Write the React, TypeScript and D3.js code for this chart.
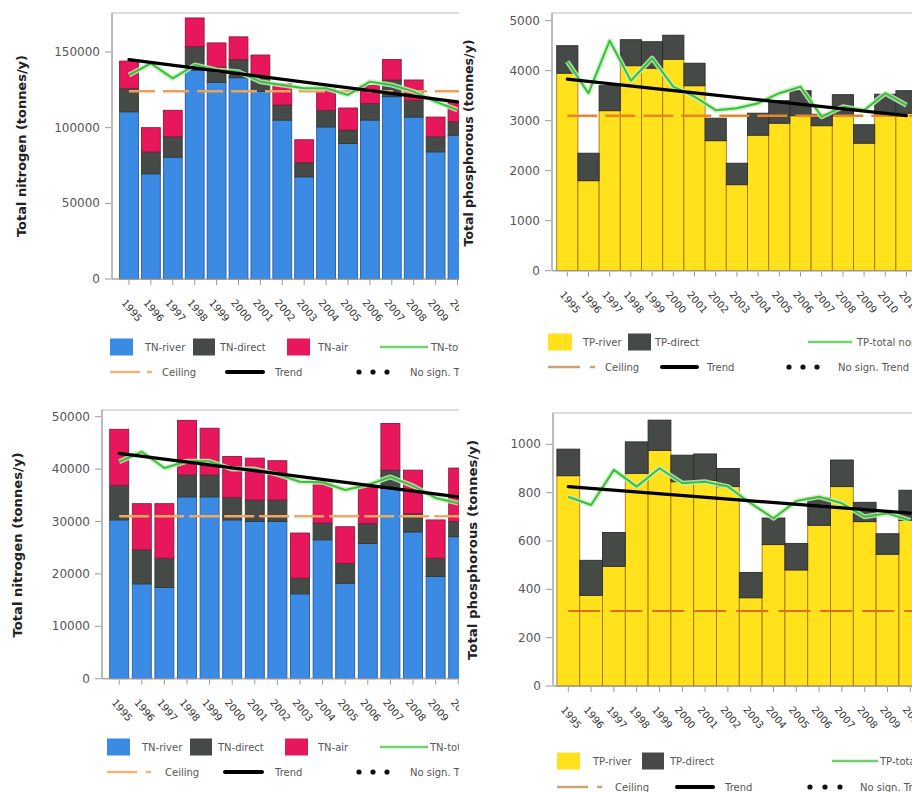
import React from 'react';
import * as d3 from 'd3';

// ---- categories ----
const yearsTN = ['1995', '1996', '1997', '1998', '1999', '2000', '2001', '2002', '2003', '2004', '2005', '2006', '2007', '2008', '2009', '2010'];
const yearsTPa = ['1995', '1996', '1997', '1998', '1999', '2000', '2001', '2002', '2003', '2004', '2005', '2006', '2007', '2008', '2009', '2010', '2011'];
const yearsTPb = ['1995', '1996', '1997', '1998', '1999', '2000', '2001', '2002', '2003', '2004', '2005', '2006', '2007', '2008', '2009', '2010'];

// ---- nitrogen, upper basin (tonnes/y) ----
const tnRiverA = [110500, 69500, 80500, 138000, 130000, 133000, 124000, 105000, 67500, 100500, 89500, 105000, 120500, 107000, 84000, 95000];
const tnDirectA = [15500, 14500, 13500, 15500, 10000, 12000, 9000, 10000, 9500, 11000, 9000, 11000, 11000, 11000, 10000, 9000];
const tnAirA = [18000, 16000, 17500, 19000, 16000, 15000, 15000, 14000, 15000, 14000, 14500, 12000, 13500, 13500, 13000, 13000];
const tnNormA = [134800, 142500, 132600, 141400, 138100, 137000, 130400, 128200, 126000, 126000, 121600, 130400, 128200, 123800, 117200, 111700];
const tnTrendA = [145000, 117000];
const tnCeilingA = 124000;
const tnTicksA = [0, 50000, 100000, 150000];

// ---- phosphorus, upper basin (tonnes/y) ----
const tpRiverA = [3950, 1800, 3200, 4100, 4050, 4230, 3700, 2600, 1720, 2710, 2950, 3100, 2900, 3100, 2550, 3130, 3150];
const tpDirectA = [550, 550, 500, 520, 530, 480, 450, 450, 430, 440, 450, 500, 230, 420, 370, 400, 450];
const tpNormA = [4180, 3550, 4600, 3800, 4250, 3680, 3480, 3210, 3250, 3350, 3550, 3680, 3080, 3280, 3210, 3550, 3310];
const tpTrendA = [3830, 3100];
const tpCeilingA = 3100;
const tpTicksA = [0, 1000, 2000, 3000, 4000, 5000];

// ---- nitrogen, lower basin (tonnes/y) ----
const tnRiverB = [30300, 18100, 17400, 34700, 34700, 30300, 30000, 30000, 16200, 26500, 18200, 25800, 36300, 28000, 19500, 27100];
const tnDirectB = [6600, 6500, 5600, 4200, 4200, 4300, 4100, 4100, 3000, 3200, 3800, 3800, 3500, 3500, 3500, 2900];
const tnAirB = [10700, 8800, 10400, 10400, 8900, 7800, 8000, 7500, 8600, 7600, 7000, 7000, 8900, 8300, 7300, 10200];
const tnNormB = [41400, 43300, 40200, 41500, 41500, 40000, 40000, 39000, 37600, 37500, 36000, 37000, 38500, 36800, 34500, 33500];
const tnTrendB = [43000, 34700];
const tnCeilingB = 31000;
const tnTicksB = [0, 10000, 20000, 30000, 40000, 50000];

// ---- phosphorus, lower basin (tonnes/y) ----
const tpRiverB = [870, 375, 495, 880, 975, 845, 850, 825, 365, 585, 480, 665, 825, 680, 545, 685];
const tpDirectB = [110, 145, 140, 130, 125, 110, 110, 75, 105, 110, 110, 115, 110, 80, 85, 125];
const tpNormB = [783, 749, 894, 825, 901, 839, 845, 825, 756, 694, 765, 783, 756, 700, 715, 685];
const tpTrendB = [825, 715];
const tpCeilingB = 310;
const tpTicksB = [0, 200, 400, 600, 800, 1000];

const FONT = 'DejaVu Sans, Verdana, sans-serif';
const BLUE = '#3b8ae4';
const DARK = '#454a46';
const PINK = '#e8175b';
const YELLOW = '#ffe21c';
const GREEN = '#3fbd3f';

type Seg = { key: string; values: number[]; fill: string; stroke: string };
type LegendSwatch = { x: number; w: number; fill: string; label: string; tx: number };
type Legend = {
  row1: number;
  row2: number;
  swatches: LegendSwatch[];
  green: [number, number, number];
  greenLabel: string;
  ceil: [number, number, number, number, number];
  ceilColor: string;
  trend: [number, number, number];
  dots: [number, number, number, number];
};
type PanelCfg = {
  id: string;
  clipLeft: number;
  clipRight: number;
  plotLeft: number;
  plotTop: number;
  y0: number;
  refValue: number;
  refPx: number;
  years: string[];
  bandStart: number;
  step: number;
  pad: number;
  segs: Seg[];
  norm: number[];
  trend: number[];
  ceiling: number;
  ceilColor: string;
  ceilDash: string;
  ceilWidth: number;
  ticks: number[];
  yLabel: string;
  yLabelX: number;
  yLabelY: number;
  yLabelLen: number;
  legend: Legend;
};

function Panel({ c }: { c: PanelCfg }) {
  const n = c.years.length;
  const x = d3
    .scaleBand<string>()
    .domain(c.years)
    .range([c.bandStart, c.bandStart + c.step * n])
    .paddingInner(c.pad)
    .paddingOuter(c.pad / 2);
  const y = d3.scaleLinear().domain([0, c.refValue]).range([c.y0, c.refPx]);
  const bw = x.bandwidth();
  const cx = (yr: string) => (x(yr) as number) + bw / 2;

  const rows = c.years.map((yr, i) => {
    const r: Record<string, any> = { year: yr };
    c.segs.forEach((s) => (r[s.key] = s.values[i]));
    return r;
  });
  const stacked = d3.stack<Record<string, any>>().keys(c.segs.map((s) => s.key))(rows);

  const normPath = d3
    .line<number>()
    .x((_, i) => cx(c.years[i]))
    .y((v) => y(v))(c.norm) as string;
  const trendPath = d3
    .line<[string, number]>()
    .x((d) => cx(d[0]))
    .y((d) => y(d[1]))([
    [c.years[0], c.trend[0]],
    [c.years[n - 1], c.trend[1]],
  ]) as string;

  const L = c.legend;
  return (
    <g>
      <defs>
        <clipPath id={c.id}>
          <rect x={c.clipLeft} y={0} width={c.clipRight - c.clipLeft} height={792} />
        </clipPath>
      </defs>
      <g clipPath={`url(#${c.id})`} fontFamily={FONT}>
        {/* plot frame */}
        <rect
          x={c.plotLeft}
          y={c.plotTop}
          width={600}
          height={c.y0 - c.plotTop}
          fill="#fff"
          stroke="#d2d2d2"
          strokeWidth={1.5}
        />
        {/* stacked bars */}
        {stacked.map((layer, li) => (
          <g key={layer.key}>
            {layer.map((d, i) => (
              <rect
                key={i}
                x={x(c.years[i])}
                y={y(d[1])}
                width={bw}
                height={Math.max(0, y(d[0]) - y(d[1]))}
                fill={c.segs[li].fill}
                stroke={c.segs[li].stroke}
                strokeWidth={0.9}
              />
            ))}
          </g>
        ))}
        {/* ceiling */}
        <line
          x1={cx(c.years[0])}
          x2={c.clipRight + 20}
          y1={y(c.ceiling)}
          y2={y(c.ceiling)}
          stroke={c.ceilColor}
          strokeWidth={c.ceilWidth}
          strokeDasharray={c.ceilDash}
        />
        {/* normalised total */}
        <path d={normPath} fill="none" stroke="#bff0b8" strokeWidth={5} strokeLinejoin="round" opacity={0.85} />
        <path d={normPath} fill="none" stroke={GREEN} strokeWidth={2} strokeLinejoin="round" />
        {/* trend */}
        <path d={trendPath} fill="none" stroke="#000" strokeWidth={3.2} strokeLinecap="round" />

        {/* y axis */}
        <line x1={c.plotLeft} x2={c.plotLeft} y1={c.plotTop} y2={c.y0} stroke="#9a9a9a" strokeWidth={1} />
        {c.ticks.map((t) => (
          <g key={t}>
            <line x1={c.plotLeft - 7} x2={c.plotLeft - 1} y1={y(t)} y2={y(t)} stroke="#9a9a9a" />
            <text
              x={c.plotLeft - 12}
              y={y(t)}
              textAnchor="end"
              dominantBaseline="central"
              fontSize={12}
              fill="#555"
            >
              {t}
            </text>
          </g>
        ))}
        {/* x axis */}
        <line x1={c.plotLeft} x2={c.clipRight + 20} y1={c.y0} y2={c.y0} stroke="#9a9a9a" />
        {c.years.map((yr) => (
          <g key={yr}>
            <line x1={cx(yr)} x2={cx(yr)} y1={c.y0 + 1} y2={c.y0 + 6} stroke="#9a9a9a" />
            <text
              transform={`translate(${cx(yr) - 8},${c.y0 + 24}) rotate(50)`}
              fontSize={10}
              fill="#333"
            >
              {yr}
            </text>
          </g>
        ))}
        {/* y label */}
        <text
          transform={`translate(${c.yLabelX},${c.yLabelY}) rotate(-90)`}
          textAnchor="middle"
          dominantBaseline="central"
          fontSize={12}
          fontWeight="bold"
          fill="#222"
          textLength={c.yLabelLen}
          lengthAdjust="spacingAndGlyphs"
        >
          {c.yLabel}
        </text>

        {/* legend */}
        {L.swatches.map((s) => (
          <g key={s.label}>
            <rect x={s.x} y={L.row1 - 8.5} width={s.w} height={17} fill={s.fill} />
            <text x={s.tx} y={L.row1} dominantBaseline="central" fontSize={10} fill="#555">
              {s.label}
            </text>
          </g>
        ))}
        <line x1={L.green[0]} x2={L.green[1]} y1={L.row1} y2={L.row1} stroke="#6fd26f" strokeWidth={2.5} />
        <text x={L.green[2]} y={L.row1} dominantBaseline="central" fontSize={10} fill="#555">
          {L.greenLabel}
        </text>
        <line x1={L.ceil[0]} x2={L.ceil[1]} y1={L.row2} y2={L.row2} stroke={L.ceilColor} strokeWidth={2.5} />
        <line x1={L.ceil[2]} x2={L.ceil[3]} y1={L.row2} y2={L.row2} stroke={L.ceilColor} strokeWidth={2.5} />
        <text x={L.ceil[4]} y={L.row2} dominantBaseline="central" fontSize={10} fill="#555">
          Ceiling
        </text>
        <line x1={L.trend[0]} x2={L.trend[1]} y1={L.row2} y2={L.row2} stroke="#000" strokeWidth={4} strokeLinecap="round" />
        <text x={L.trend[2]} y={L.row2} dominantBaseline="central" fontSize={10} fill="#555">
          Trend
        </text>
        {[0, 1, 2].map((k) => (
          <circle key={k} cx={L.dots[0] + k * L.dots[1]} cy={L.row2} r={2.6} fill="#111" />
        ))}
        <text x={L.dots[2]} y={L.row2} dominantBaseline="central" fontSize={10} fill="#555">
          No sign. Trend
        </text>
      </g>
    </g>
  );
}

const tnSegs = (river: number[], direct: number[], air: number[]): Seg[] => [
  { key: 'river', values: river, fill: BLUE, stroke: '#2f5a9c' },
  { key: 'direct', values: direct, fill: DARK, stroke: '#2f3a33' },
  { key: 'air', values: air, fill: PINK, stroke: '#8a1a40' },
];
const tpSegs = (river: number[], direct: number[]): Seg[] => [
  { key: 'river', values: river, fill: YELLOW, stroke: '#a5741a' },
  { key: 'direct', values: direct, fill: DARK, stroke: '#2c2c2c' },
];

const panels: PanelCfg[] = [
  {
    id: 'clip-tn-a',
    clipLeft: 0,
    clipRight: 459,
    plotLeft: 112,
    plotTop: 13,
    y0: 279,
    refValue: 150000,
    refPx: 52,
    years: yearsTN,
    bandStart: 129 - 21.9 / 2,
    step: 21.9,
    pad: 0.14,
    segs: tnSegs(tnRiverA, tnDirectA, tnAirA),
    norm: tnNormA,
    trend: tnTrendA,
    ceiling: tnCeilingA,
    ceilColor: '#eda25c',
    ceilDash: '26 8',
    ceilWidth: 2.5,
    ticks: tnTicksA,
    yLabel: 'Total nitrogen (tonnes/y)',
    yLabelX: 22,
    yLabelY: 146,
    yLabelLen: 182,
    legend: {
      row1: 347,
      row2: 372,
      swatches: [
        { x: 110, w: 23, fill: BLUE, label: 'TN-river', tx: 145 },
        { x: 193, w: 22, fill: DARK, label: 'TN-direct', tx: 220 },
        { x: 287, w: 23, fill: PINK, label: 'TN-air', tx: 318 },
      ],
      green: [380, 428, 431],
      greenLabel: 'TN-total normalised',
      ceil: [110, 140, 147, 152, 162],
      ceilColor: '#f0b478',
      trend: [227, 263, 275],
      dots: [359, 14, 410],
    },
  },
  {
    id: 'clip-tp-a',
    clipLeft: 460,
    clipRight: 912,
    plotLeft: 552,
    plotTop: 13,
    y0: 270.7,
    refValue: 5000,
    refPx: 20.7,
    years: yearsTPa,
    bandStart: 567.3 - 21.2 / 2,
    step: 21.2,
    pad: 0,
    segs: tpSegs(tpRiverA, tpDirectA),
    norm: tpNormA,
    trend: tpTrendA,
    ceiling: tpCeilingA,
    ceilColor: '#e5862a',
    ceilDash: '30 8',
    ceilWidth: 2.5,
    ticks: tpTicksA,
    yLabel: 'Total phosphorous (tonnes/y)',
    yLabelX: 469,
    yLabelY: 143,
    yLabelLen: 207,
    legend: {
      row1: 342,
      row2: 367,
      swatches: [
        { x: 548, w: 24, fill: YELLOW, label: 'TP-river', tx: 583 },
        { x: 628, w: 23, fill: DARK, label: 'TP-direct', tx: 655 },
      ],
      green: [808, 852, 857],
      greenLabel: 'TP-total normalised',
      ceil: [548, 580, 590, 595, 605],
      ceilColor: '#c9a276',
      trend: [662, 697, 707],
      dots: [789, 14, 838],
    },
  },
  {
    id: 'clip-tn-b',
    clipLeft: 0,
    clipRight: 459,
    plotLeft: 102,
    plotTop: 410,
    y0: 678.7,
    refValue: 50000,
    refPx: 416.7,
    years: yearsTN,
    bandStart: 119.2 - 22.6 / 2,
    step: 22.6,
    pad: 0.16,
    segs: tnSegs(tnRiverB, tnDirectB, tnAirB),
    norm: tnNormB,
    trend: tnTrendB,
    ceiling: tnCeilingB,
    ceilColor: '#f0a862',
    ceilDash: '30 5',
    ceilWidth: 2.5,
    ticks: tnTicksB,
    yLabel: 'Total nitrogen (tonnes/y)',
    yLabelX: 18,
    yLabelY: 545,
    yLabelLen: 185,
    legend: {
      row1: 747,
      row2: 772,
      swatches: [
        { x: 107, w: 23, fill: BLUE, label: 'TN-river', tx: 142 },
        { x: 190, w: 22, fill: DARK, label: 'TN-direct', tx: 218 },
        { x: 285, w: 23, fill: PINK, label: 'TN-air', tx: 318 },
      ],
      green: [380, 428, 430],
      greenLabel: 'TN-total normalised',
      ceil: [107, 137, 146, 151, 165],
      ceilColor: '#f0b478',
      trend: [225, 262, 275],
      dots: [359, 14, 410],
    },
  },
  {
    id: 'clip-tp-b',
    clipLeft: 460,
    clipRight: 912,
    plotLeft: 553,
    plotTop: 413,
    y0: 686,
    refValue: 1000,
    refPx: 444.3,
    years: yearsTPb,
    bandStart: 568.3 - 22.8 / 2,
    step: 22.8,
    pad: 0,
    segs: tpSegs(tpRiverB, tpDirectB),
    norm: tpNormB,
    trend: tpTrendB,
    ceiling: tpCeilingB,
    ceilColor: '#e06d1c',
    ceilDash: '32 10',
    ceilWidth: 2,
    ticks: tpTicksB,
    yLabel: 'Total phosphorous (tonnes/y)',
    yLabelX: 473,
    yLabelY: 550,
    yLabelLen: 220,
    legend: {
      row1: 761,
      row2: 787,
      swatches: [
        { x: 557, w: 23, fill: YELLOW, label: 'TP-river', tx: 593 },
        { x: 642, w: 22, fill: DARK, label: 'TP-direct', tx: 670 },
      ],
      green: [832, 878, 880],
      greenLabel: 'TP-total normalised',
      ceil: [557, 588, 597, 602, 615],
      ceilColor: '#c9a276',
      trend: [677, 713, 725],
      dots: [810, 15, 860],
    },
  },
];

export default function App() {
  return (
    <svg
      width={912}
      height={792}
      viewBox="0 0 912 792"
      style={{ position: 'absolute', left: 0, top: 0, display: 'block', background: '#fff' }}
    >
      <rect x={0} y={0} width={912} height={792} fill="#fff" />
      {panels.map((p) => (
        <Panel key={p.id} c={p} />
      ))}
    </svg>
  );
}
